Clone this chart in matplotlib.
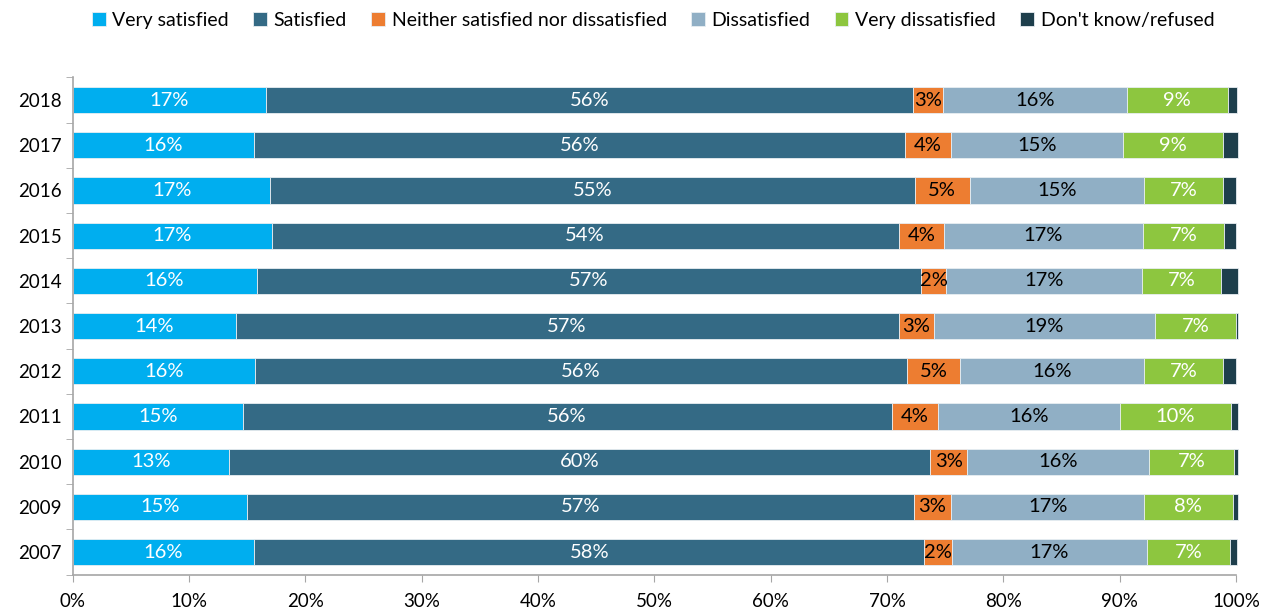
import numpy as np
import matplotlib.pyplot as plt

plt.rcParams['font.family'] = ['Lato', 'DejaVu Sans']

# Dati (percentuali)
years = ['2018', '2017', '2016', '2015', '2014', '2013', '2012', '2011', '2010', '2009', '2007']
very_satisfied = [16.6, 15.6, 17.0, 17.1, 15.8, 14.0, 15.7, 14.6, 13.4, 15.0, 15.6]
satisfied = [55.6, 55.9, 55.4, 53.9, 57.1, 57.0, 56.0, 55.8, 60.3, 57.3, 57.6]
neither = [2.6, 4.0, 4.7, 3.9, 2.2, 3.0, 4.6, 4.0, 3.2, 3.2, 2.4]
dissatisfied = [15.8, 14.8, 15.0, 17.1, 16.8, 19.0, 15.8, 15.6, 15.6, 16.6, 16.7]
very_dissatisfied = [8.7, 8.6, 6.8, 7.0, 6.8, 7.0, 6.8, 9.6, 7.3, 7.6, 7.2]
dont_know = [0.8, 1.3, 1.1, 1.0, 1.5, 0.2, 1.1, 0.6, 0.4, 0.5, 0.6]

series = [
    ('Very satisfied', very_satisfied, '#00AEEF', 'white'),
    ('Satisfied', satisfied, '#346A85', 'white'),
    ('Neither satisfied nor dissatisfied', neither, '#ED7D31', 'black'),
    ('Dissatisfied', dissatisfied, '#90AFC5', 'black'),
    ('Very dissatisfied', very_dissatisfied, '#8DC63F', 'white'),
    ("Don't know/refused", dont_know, '#1E3F4C', None),
]

fig = plt.figure(figsize=(12.73, 6.12), dpi=100)
ax = fig.add_axes([0.0571, 0.0611, 0.9139, 0.8124])

y = np.arange(len(years))
left = np.zeros(len(years))
for name, vals, color, txtcol in series:
    vals = np.array(vals)
    bars = ax.barh(y, vals, left=left, height=0.58, color=color, label=name,
                   edgecolor='#E8EEF2', linewidth=0.6, clip_on=False)
    if txtcol is not None:
        for yi, l, v in zip(y, left, vals):
            ax.text(l + v / 2, yi, f'{v:.0f}%', ha='center', va='center',
                    color=txtcol, fontsize=14.5)
    left += vals

ax.set_xlim(0, 100)
ax.set_ylim(len(years) - 0.5, -0.5)
ax.set_yticks(y)
ax.set_yticklabels(years, fontsize=13.5)
ax.set_yticks(np.arange(-0.5, len(years), 1), minor=True)
ax.tick_params(axis='y', which='major', length=0, pad=8)
ax.tick_params(axis='y', which='minor', length=5, color='#A6A6A6', direction='out')
ax.set_xticks(np.arange(0, 101, 10))
ax.set_xticklabels([f'{v}%' for v in range(0, 101, 10)], fontsize=13.5)
ax.tick_params(axis='x', length=5, color='#A6A6A6', direction='out', pad=8)

for s in ['top', 'right']:
    ax.spines[s].set_visible(False)
for s in ['left', 'bottom']:
    ax.spines[s].set_color('#A6A6A6')
    ax.spines[s].set_linewidth(1.2)

fig.legend(loc='center', bbox_to_anchor=(0.513, 0.967), ncol=6, frameon=False,
           fontsize=14, handlelength=0.7, handleheight=0.7, handletextpad=0.35,
           columnspacing=1.25)

fig.savefig('out.png', dpi=100)
